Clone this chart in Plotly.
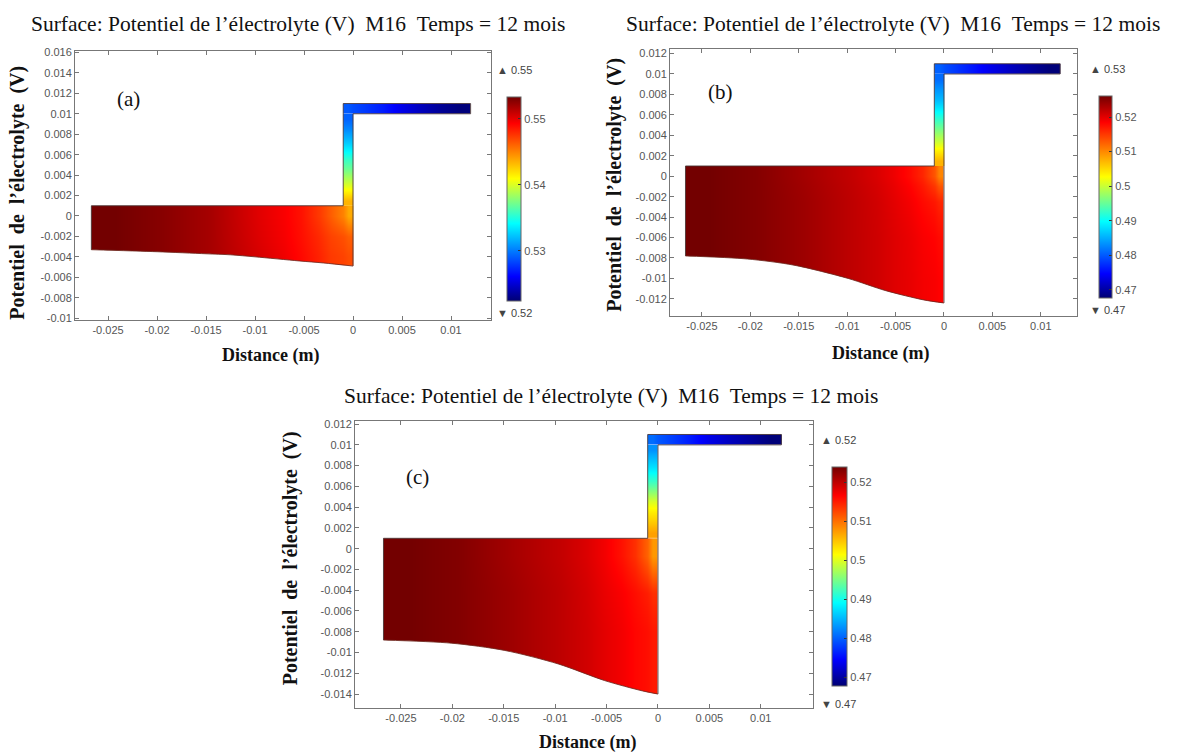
import plotly.graph_objects as go

FIG_W, FIG_H = 1184, 756

# ---------------------------------------------------------------- texts
TITLE_TEXT = ("Surface: Potentiel de l\u2019électrolyte (V)\u00a0\u00a0M16"
              "\u00a0\u00a0Temps = 12 mois")
Y_TITLE = "Potentiel\u00a0\u00a0de\u00a0\u00a0l\u2019électrolyte\u00a0\u00a0(V)"
X_TITLE = "Distance (m)"
panel_tags = ["(a)", "(b)", "(c)"]

# ---------------------------------------------------------------- ticks
x_tick_vals = [-0.025, -0.02, -0.015, -0.01, -0.005, 0.0, 0.005, 0.01]
x_tick_text = ["-0.025", "-0.02", "-0.015", "-0.01", "-0.005", "0", "0.005", "0.01"]

y_tick_vals_a = [0.016, 0.014, 0.012, 0.01, 0.008, 0.006, 0.004, 0.002, 0.0,
                 -0.002, -0.004, -0.006, -0.008, -0.01]
y_tick_text_a = ["0.016", "0.014", "0.012", "0.01", "0.008", "0.006", "0.004",
                 "0.002", "0", "-0.002", "-0.004", "-0.006", "-0.008", "-0.01"]
y_tick_vals_b = [0.012, 0.01, 0.008, 0.006, 0.004, 0.002, 0.0, -0.002, -0.004,
                 -0.006, -0.008, -0.01, -0.012]
y_tick_text_b = ["0.012", "0.01", "0.008", "0.006", "0.004", "0.002", "0",
                 "-0.002", "-0.004", "-0.006", "-0.008", "-0.01", "-0.012"]
y_tick_vals_c = [0.012, 0.01, 0.008, 0.006, 0.004, 0.002, 0.0, -0.002, -0.004,
                 -0.006, -0.008, -0.01, -0.012, -0.014]
y_tick_text_c = ["0.012", "0.01", "0.008", "0.006", "0.004", "0.002", "0",
                 "-0.002", "-0.004", "-0.006", "-0.008", "-0.01", "-0.012", "-0.014"]

# ---------------------------------------------------------------- electrolyte geometry (m)
block_x_edges = [-0.0267, -0.022, -0.017, -0.012, -0.007, -0.0035, -0.001, 0.0]
strip_x_edges = [-0.001, 0.0]
strip_y_edges = [0.001, 0.002, 0.003, 0.004, 0.005, 0.006, 0.007, 0.008, 0.009, 0.010]
bar_x_edges = [-0.001, 0.0, 0.002, 0.004, 0.006, 0.008, 0.010, 0.012]
bar_y_edges = [0.010, 0.011]

block_y_edges_a = [-0.0049, -0.003, -0.001, 0.001]
block_y_edges_b = [-0.0124, -0.008, -0.004, -0.001, 0.001]
block_y_edges_c = [-0.0140, -0.010, -0.006, -0.0025, 0.001]

# lower (deformed) boundary of the electrolyte
bottom_x_a = [-0.0267, -0.02, -0.015, -0.0125, -0.01, -0.0055, -0.003, 0.0]
bottom_y_a = [-0.0033, -0.0035, -0.0037, -0.0038, -0.0040, -0.0044, -0.0046, -0.0049]
bottom_x_b = [-0.0267, -0.0203, -0.0155, -0.0099, -0.006, -0.0021, 0.0]
bottom_y_b = [-0.0078, -0.0081, -0.0087, -0.0100, -0.0112, -0.0121, -0.0124]
bottom_x_c = [-0.0267, -0.0201, -0.0149, -0.0097, -0.0052, -0.0015, 0.0]
bottom_y_c = [-0.0088, -0.0091, -0.0098, -0.0111, -0.0127, -0.0137, -0.0140]

# ---------------------------------------------------------------- electrolyte potential (V)
phi_block_a = [
    [0.5533, 0.5527, 0.5518, 0.5504, 0.5490, 0.5474, 0.5468],
    [0.5533, 0.5527, 0.5518, 0.5502, 0.5488, 0.5471, 0.5462],
    [0.5533, 0.5527, 0.5518, 0.5501, 0.5487, 0.5462, 0.5437],
]
phi_strip_a = [0.5434, 0.5412, 0.5391, 0.5372, 0.5357, 0.5338, 0.5320, 0.5304, 0.5292]
phi_bar_a = [0.5289, 0.5280, 0.5270, 0.5255, 0.5243, 0.5233, 0.5226]

phi_block_b = [
    [0.5261, 0.5252, 0.5238, 0.5220, 0.5203, 0.5191, 0.5185],
    [0.5261, 0.5252, 0.5238, 0.5220, 0.5203, 0.5188, 0.5179],
    [0.5261, 0.5252, 0.5238, 0.5220, 0.5200, 0.5179, 0.5162],
    [0.5261, 0.5252, 0.5235, 0.5217, 0.5194, 0.5162, 0.5103],
]
phi_strip_b = [0.5074, 0.5039, 0.4998, 0.4963, 0.4928, 0.4893, 0.4858, 0.4835, 0.4811]
phi_bar_b = [0.4805, 0.4782, 0.4759, 0.4735, 0.4715, 0.4697, 0.4680]

phi_block_c = [
    [0.5238, 0.5230, 0.5216, 0.5199, 0.5179, 0.5162, 0.5151],
    [0.5238, 0.5230, 0.5216, 0.5199, 0.5179, 0.5162, 0.5151],
    [0.5238, 0.5230, 0.5216, 0.5199, 0.5176, 0.5157, 0.5137],
    [0.5238, 0.5230, 0.5213, 0.5196, 0.5171, 0.5137, 0.5075],
]
phi_strip_c = [0.5070, 0.5047, 0.5025, 0.4997, 0.4958, 0.4918, 0.4885, 0.4857, 0.4828]
phi_bar_c = [0.4806, 0.4784, 0.4761, 0.4733, 0.4713, 0.4697, 0.4680]

# colour ranges and colour-bar ticks
crange_a = [0.5224, 0.5533]
crange_b = [0.4677, 0.5261]
crange_c = [0.4677, 0.5238]
cbar_vals_a = [0.53, 0.54, 0.55]
cbar_text_a = ["0.53", "0.54", "0.55"]
cbar_vals_bc = [0.47, 0.48, 0.49, 0.50, 0.51, 0.52]
cbar_text_bc = ["0.47", "0.48", "0.49", "0.5", "0.51", "0.52"]

RAINBOW = [
    [0.0, "rgb(0,0,115)"],
    [0.12, "rgb(0,0,255)"],
    [0.38, "rgb(0,255,255)"],
    [0.60, "rgb(255,255,0)"],
    [0.87, "rgb(255,0,0)"],
    [1.0, "rgb(115,0,0)"],
]

SERIF = "Liberation Serif, Times New Roman, serif"
SANS = "Liberation Sans, Arial, sans-serif"
TICK_COLOR = "#555"
FRAME_COLOR = "#777"

# ---------------------------------------------------------------- panel layout (pixels)
panels = [
    dict(tag=panel_tags[0], box=(75, 47, 491, 319),
         xr=[-0.02837, 0.01408], yr=[-0.0102, 0.0161],
         yv=y_tick_vals_a, yt=y_tick_text_a,
         by=block_y_edges_a, bx_curve=bottom_x_a, by_curve=bottom_y_a,
         blk=phi_block_a, strip=phi_strip_a, bar=phi_bar_a, cr=crange_a,
         cv=cbar_vals_a, ct=cbar_text_a,
         cbar=(507, 93, 204, 14), tri_x=495, tri_top=66, tri_bot=312,
         title=(298, 19), tag_pos=(128, 95), ylab=(18, 190), xlab=(270, 355)),
    dict(tag=panel_tags[1], box=(670, 45, 1077, 315),
         xr=[-0.0283, 0.01374], yr=[-0.0137, 0.0124],
         yv=y_tick_vals_b, yt=y_tick_text_b,
         by=block_y_edges_b, bx_curve=bottom_x_b, by_curve=bottom_y_b,
         blk=phi_block_b, strip=phi_strip_b, bar=phi_bar_b, cr=crange_b,
         cv=cbar_vals_bc, ct=cbar_text_bc,
         cbar=(1099, 92, 202, 13), tri_x=1088, tri_top=65, tri_bot=309,
         title=(893, 19), tag_pos=(720, 88), ylab=(615, 182), xlab=(880, 353)),
    dict(tag=panel_tags[2], box=(355, 421, 813, 711),
         xr=[-0.02947, 0.01508], yr=[-0.0153, 0.0123],
         yv=y_tick_vals_c, yt=y_tick_text_c,
         by=block_y_edges_c, bx_curve=bottom_x_c, by_curve=bottom_y_c,
         blk=phi_block_c, strip=phi_strip_c, bar=phi_bar_c, cr=crange_c,
         cv=cbar_vals_bc, ct=cbar_text_bc,
         cbar=(832, 468, 219, 15), tri_x=819, tri_top=440, tri_bot=707,
         title=(611, 396), tag_pos=(417, 478), ylab=(290, 560), xlab=(587, 746)),
]


def px_x(v):
    return v / FIG_W


def px_y(v):
    return 1 - v / FIG_H


fig = go.Figure()
annotations = []
layout_axes = {}

for i, p in enumerate(panels):
    n = "" if i == 0 else str(i + 1)
    xa, ya, ca = "x" + n, "y" + n, "coloraxis" + n
    common = dict(xaxis=xa, yaxis=ya, coloraxis=ca, zsmooth="best",
                  hoverinfo="skip")

    # potential field: lower block, vertical strip, top collector bar
    fig.add_trace(go.Heatmap(x=block_x_edges, y=p["by"], z=p["blk"], **common))
    fig.add_trace(go.Heatmap(x=strip_x_edges, y=strip_y_edges,
                             z=[[v] for v in p["strip"]], **common))
    fig.add_trace(go.Heatmap(x=bar_x_edges, y=bar_y_edges, z=[p["bar"]], **common))

    # white mask under the curved lower boundary
    cx, cy = p["bx_curve"], p["by_curve"]
    pad = 0.0008
    y_low = min(cy) - 0.0006
    fig.add_trace(go.Scatter(
        x=[cx[0] - pad] + cx + [cx[-1] + pad, cx[-1] + pad, cx[0] - pad],
        y=[cy[0]] + cy + [cy[-1], y_low, y_low],
        mode="lines", line=dict(width=0, shape="spline", smoothing=0.8),
        fill="toself", fillcolor="white", hoverinfo="skip", showlegend=False,
        xaxis=xa, yaxis=ya))

    # domain outline
    fig.add_trace(go.Scatter(
        x=[block_x_edges[0], block_x_edges[0], strip_x_edges[0], strip_x_edges[0],
           bar_x_edges[-1], bar_x_edges[-1], strip_x_edges[1], strip_x_edges[1]],
        y=[cy[0], p["by"][-1], p["by"][-1], bar_y_edges[1],
           bar_y_edges[1], bar_y_edges[0], bar_y_edges[0], cy[-1]],
        mode="lines", line=dict(color="rgba(70,50,50,0.85)", width=1),
        hoverinfo="skip", showlegend=False, xaxis=xa, yaxis=ya))
    fig.add_trace(go.Scatter(
        x=cx, y=cy, mode="lines",
        line=dict(color="rgba(110,40,30,0.85)", width=1, shape="spline", smoothing=0.8),
        hoverinfo="skip", showlegend=False, xaxis=xa, yaxis=ya))

    left, top, right, bottom = p["box"]
    axis_style = dict(showline=True, linecolor=FRAME_COLOR, linewidth=1,
                      mirror="ticks", ticks="inside", ticklen=4,
                      tickcolor=FRAME_COLOR, showgrid=False, zeroline=False,
                      tickfont=dict(family=SANS, size=11, color=TICK_COLOR),
                      tickmode="array", fixedrange=True)
    layout_axes["xaxis" + n] = dict(
        domain=[px_x(left), px_x(right)], range=p["xr"], anchor=ya,
        tickvals=x_tick_vals, ticktext=x_tick_text, **axis_style)
    layout_axes["yaxis" + n] = dict(
        domain=[px_y(bottom), px_y(top)], range=p["yr"], anchor=xa,
        tickvals=p["yv"], ticktext=p["yt"], **axis_style)

    cb_left, cb_top, cb_len, cb_thick = p["cbar"]
    layout_axes[ca] = dict(
        cmin=p["cr"][0], cmax=p["cr"][1], colorscale=RAINBOW,
        colorbar=dict(x=px_x(cb_left), xanchor="left", xpad=0,
                      y=px_y(cb_top), yanchor="top", ypad=0,
                      len=cb_len, lenmode="pixels",
                      thickness=cb_thick, thicknessmode="pixels",
                      outlinewidth=1, outlinecolor="#666",
                      tickmode="array", tickvals=p["cv"], ticktext=p["ct"],
                      ticks="inside", ticklen=3, tickcolor="#333",
                      tickfont=dict(family=SANS, size=11, color=TICK_COLOR)))

    # extreme values of the field
    all_vals = [v for row in p["blk"] for v in row] + p["strip"] + p["bar"]
    for sym, val, ypos in (("\u25b2", max(all_vals), p["tri_top"]),
                           ("\u25bc", min(all_vals), p["tri_bot"])):
        annotations.append(dict(
            x=px_x(p["tri_x"]), y=px_y(ypos), xref="paper", yref="paper",
            xanchor="left", yanchor="middle", showarrow=False,
            text=f"{sym} {val:.2f}",
            font=dict(family=SANS, size=11, color="#444")))

    tx, ty = p["title"]
    annotations.append(dict(x=px_x(tx), y=px_y(ty), xref="paper", yref="paper",
                            xanchor="center", yanchor="middle", showarrow=False,
                            text=TITLE_TEXT,
                            font=dict(family=SERIF, size=21.5, color="#111")))
    gx, gy = p["tag_pos"]
    annotations.append(dict(x=px_x(gx), y=px_y(gy), xref="paper", yref="paper",
                            xanchor="center", yanchor="middle", showarrow=False,
                            text=p["tag"],
                            font=dict(family=SERIF, size=21, color="#111")))
    lx, ly = p["ylab"]
    annotations.append(dict(x=px_x(lx), y=px_y(ly), xref="paper", yref="paper",
                            xanchor="center", yanchor="middle", showarrow=False,
                            textangle=-90, text="<b>" + Y_TITLE + "</b>",
                            font=dict(family=SERIF, size=20, color="#111")))
    dx, dy = p["xlab"]
    annotations.append(dict(x=px_x(dx), y=px_y(dy), xref="paper", yref="paper",
                            xanchor="center", yanchor="middle", showarrow=False,
                            text="<b>" + X_TITLE + "</b>",
                            font=dict(family=SERIF, size=18, color="#111")))

fig.update_layout(
    width=FIG_W, height=FIG_H,
    margin=dict(l=0, r=0, t=0, b=0),
    paper_bgcolor="white", plot_bgcolor="white",
    showlegend=False,
    annotations=annotations,
    **layout_axes,
)

fig.write_html("out.html")
